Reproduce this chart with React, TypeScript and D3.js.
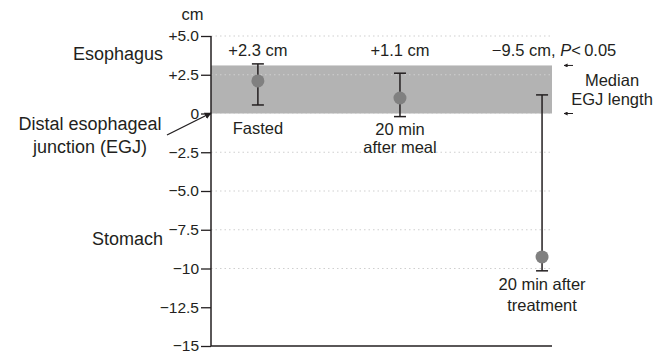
import * as d3 from 'd3';
import { useEffect, useRef } from 'react';

const categoryLines = [['Fasted'], ['20 min', 'after meal'], ['20 min after', 'treatment']];
const medians = [2.1, 1.0, -9.25];
const lowerBounds = [0.55, -0.2, -10.15];
const upperBounds = [3.2, 2.6, 1.2];
const changeLabels = ['+2.3 cm', '+1.1 cm', '\u22129.5 cm, '];
const egjBand = [0, 3.1];
const yTicks = [5, 2.5, 0, -2.5, -5, -7.5, -10, -12.5, -15];
const yTickLabels = ['+5.0', '+2.5', '0', '\u22122.5', '\u22125.0', '\u22127.5', '\u221210', '\u221212.5', '\u221215'];
const gridValues = [5, 2.5, 0, -2.5, -5, -7.5, -10];

export default function App() {
  const w = 667;
  const h = 354;
  const svgRef = useRef<SVGSVGElement>(null);

  useEffect(() => {
    if (svgRef.current == null) {
      return;
    }
    const font = '"Liberation Sans", Arial, sans-serif';
    const ink = '#231f20';
    const svg = d3.select(svgRef.current).select('#change');
    svg.selectAll('*').remove();

    const yScale = d3.scaleLinear().domain([-15, 5]).range([346, 36]);
    const xScale = d3.scaleLinear().domain([-0.33, 2.07]).range([211, 552]);
    const [x0, x1] = xScale.range();

    const defs = svg.append('defs');
    defs
      .append('marker')
      .attr('id', 'head')
      .attr('viewBox', '0 0 10 10')
      .attr('refX', 9)
      .attr('refY', 5)
      .attr('markerWidth', 7)
      .attr('markerHeight', 7)
      .attr('markerUnits', 'userSpaceOnUse')
      .attr('orient', 'auto')
      .append('path')
      .attr('d', 'M0,0 L10,5 L0,10 z')
      .attr('fill', ink);
    defs
      .append('marker')
      .attr('id', 'small')
      .attr('viewBox', '0 0 10 10')
      .attr('refX', 9)
      .attr('refY', 5)
      .attr('markerWidth', 4)
      .attr('markerHeight', 4)
      .attr('markerUnits', 'userSpaceOnUse')
      .attr('orient', 'auto')
      .append('path')
      .attr('d', 'M0,0 L10,5 L0,10 z')
      .attr('fill', ink);

    // median EGJ length band
    svg
      .append('rect')
      .attr('x', x0)
      .attr('y', yScale(egjBand[1]))
      .attr('width', x1 - x0)
      .attr('height', yScale(egjBand[0]) - yScale(egjBand[1]))
      .attr('fill', '#b3b3b3');

    svg
      .selectAll('.grid')
      .data(gridValues)
      .join('line')
      .attr('x1', x0)
      .attr('x2', x1)
      .attr('y1', (d) => yScale(d))
      .attr('y2', (d) => yScale(d))
      .attr('stroke', '#cfcfcf')
      .attr('stroke-width', 1.2)
      .attr('stroke-dasharray', '1.5 3');

    const yAxis = d3
      .axisLeft(yScale)
      .tickValues(yTicks)
      .tickSize(10)
      .tickPadding(2)
      .tickFormat((_, i) => yTickLabels[i]);
    const ax = svg.append('g').attr('transform', `translate(${x0},0)`).call(yAxis);
    ax.select('.domain').remove();
    ax.selectAll('line').attr('stroke', ink).attr('stroke-width', 1.3);
    ax.selectAll('text').style('font', `15.5px ${font}`).attr('fill', ink);

    svg
      .append('line')
      .attr('x1', x0)
      .attr('x2', x0)
      .attr('y1', yScale(5))
      .attr('y2', yScale(-15))
      .attr('stroke', ink)
      .attr('stroke-width', 1.5);
    svg
      .append('line')
      .attr('x1', x0)
      .attr('x2', x1)
      .attr('y1', yScale(-15))
      .attr('y2', yScale(-15))
      .attr('stroke', ink)
      .attr('stroke-width', 1.5);

    const capHalf = 6;
    medians.forEach((m, i) => {
      const cx = xScale(i);
      svg
        .append('line')
        .attr('x1', cx)
        .attr('x2', cx)
        .attr('y1', yScale(upperBounds[i]))
        .attr('y2', yScale(lowerBounds[i]))
        .attr('stroke', ink)
        .attr('stroke-width', 1.5);
      [upperBounds[i], lowerBounds[i]].forEach((v) => {
        svg
          .append('line')
          .attr('x1', cx - capHalf)
          .attr('x2', cx + capHalf)
          .attr('y1', yScale(v))
          .attr('y2', yScale(v))
          .attr('stroke', ink)
          .attr('stroke-width', 1.5);
      });
      svg
        .append('circle')
        .attr('cx', cx)
        .attr('cy', yScale(m))
        .attr('r', 6.5)
        .attr('fill', '#808080');
    });

    const label = (x: number, y: number, txt: string, size: number, anchor = 'middle') =>
      svg
        .append('text')
        .attr('x', x)
        .attr('y', y)
        .attr('dy', '0.36em')
        .attr('text-anchor', anchor)
        .attr('fill', ink)
        .style('font', `${size}px ${font}`)
        .text(txt);

    // change labels
    changeLabels.forEach((t, i) => {
      if (i < 2) {
        label(xScale(i), 50, t, 16.5);
      } else {
        const tx = label(xScale(i) + 12, 50, t, 16.5);
        tx.append('tspan').style('font-style', 'italic').text('P');
        tx.append('tspan').text('<\u20090.05');
      }
    });

    // category labels
    const catY = [[128.5], [128.7, 147.5], [284.5, 304.7]];
    categoryLines.forEach((lines, i) => {
      lines.forEach((ln, j) => label(xScale(i), catY[i][j], ln, 16.5));
    });

    label(192.5, 14, 'cm', 16.5);
    label(163, 53.5, 'Esophagus', 18, 'end');
    label(163, 238.8, 'Stomach', 18, 'end');
    label(90, 123.7, 'Distal esophageal', 18);
    label(90, 146.7, 'junction (EGJ)', 18);
    label(612, 80, 'Median', 16.5);
    label(612, 99.5, 'EGJ length', 16.5);

    svg
      .append('line')
      .attr('x1', 167)
      .attr('y1', 135)
      .attr('x2', x0)
      .attr('y2', yScale(0) - 0.5)
      .attr('stroke', ink)
      .attr('stroke-width', 1.3)
      .attr('marker-end', 'url(#head)');

    egjBand.forEach((v) => {
      svg
        .append('line')
        .attr('x1', 573)
        .attr('x2', 564)
        .attr('y1', yScale(v))
        .attr('y2', yScale(v))
        .attr('stroke', ink)
        .attr('stroke-width', 1)
        .attr('marker-end', 'url(#small)');
    });
  }, []);

  return (
    <svg
      ref={svgRef}
      width={w}
      height={h}
      style={{ position: 'absolute', left: 0, top: 0, background: '#fff' }}
    >
      <g id='change'></g>
    </svg>
  );
}
